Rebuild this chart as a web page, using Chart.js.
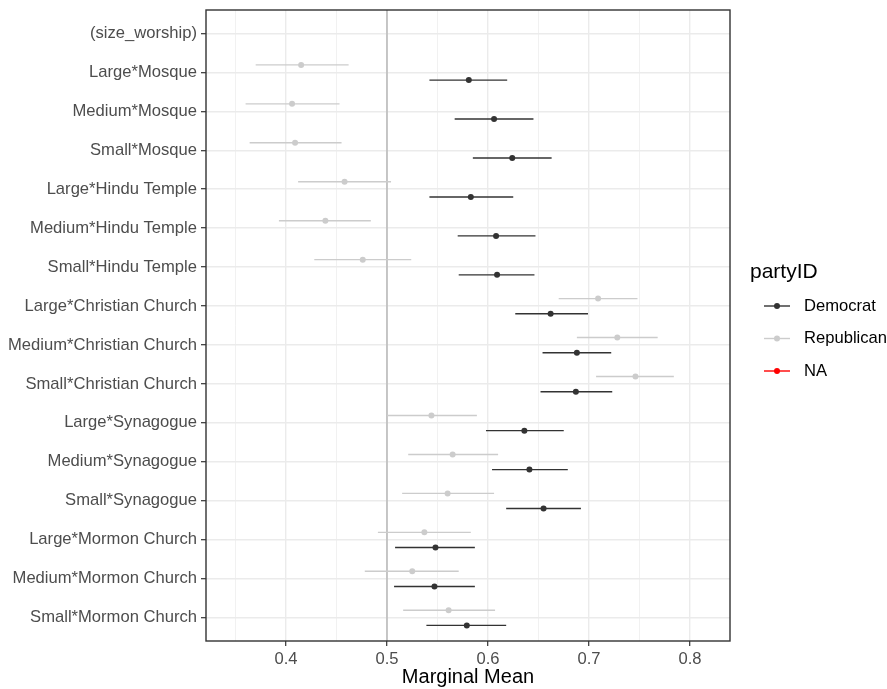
<!DOCTYPE html>
<html>
<head>
<meta charset="utf-8">
<script src="https://cdn.jsdelivr.net/npm/chart.js@4.4.0/dist/chart.umd.min.js"></script>
<style>
  html, body { margin: 0; padding: 0; background: #fff; }
</style>
</head>
<body>
<canvas id="chart" width="887" height="689"></canvas>
<script>
const categories = [
    "(size_worship)", "Large*Mosque", "Medium*Mosque", "Small*Mosque",
    "Large*Hindu Temple", "Medium*Hindu Temple", "Small*Hindu Temple",
    "Large*Christian Church", "Medium*Christian Church", "Small*Christian Church",
    "Large*Synagogue", "Medium*Synagogue", "Small*Synagogue",
    "Large*Mormon Church", "Medium*Mormon Church", "Small*Mormon Church"
];

const demEstimate = [null, 0.581, 0.606, 0.624, 0.583, 0.608, 0.609, 0.662, 0.688, 0.687, 0.636, 0.641, 0.655, 0.548, 0.547, 0.579];
const demLower    = [null, 0.542, 0.567, 0.585, 0.542, 0.570, 0.571, 0.627, 0.654, 0.652, 0.598, 0.604, 0.618, 0.508, 0.507, 0.539];
const demUpper    = [null, 0.619, 0.645, 0.663, 0.625, 0.647, 0.646, 0.699, 0.722, 0.723, 0.675, 0.679, 0.692, 0.587, 0.587, 0.618];

const repEstimate = [null, 0.415, 0.406, 0.409, 0.458, 0.439, 0.476, 0.709, 0.728, 0.746, 0.544, 0.565, 0.560, 0.537, 0.525, 0.561];
const repLower    = [null, 0.370, 0.360, 0.364, 0.412, 0.393, 0.428, 0.670, 0.688, 0.707, 0.500, 0.521, 0.515, 0.491, 0.478, 0.516];
const repUpper    = [null, 0.462, 0.453, 0.455, 0.504, 0.484, 0.524, 0.748, 0.768, 0.784, 0.589, 0.610, 0.606, 0.583, 0.571, 0.607];

const majorTicks = [0.4, 0.5, 0.6, 0.7, 0.8];
const minorTicks = [0.35, 0.45, 0.55, 0.65, 0.75];
const referenceLine = 0.5;

const FONT = '"Liberation Sans", Arial, sans-serif';
const isMajor = v => majorTicks.some(m => Math.abs(m - v) < 1e-6);

// one row of points per category, dodged up/down a little
function buildPoints(est, lo, hi, shift) {
    const pts = [];
    categories.forEach((c, i) => {
        if (est[i] == null) return;
        pts.push({ x: est[i], y: i + shift, lo: lo[i], hi: hi[i] });
    });
    return pts;
}

const errorBars = {
    id: 'errorBars',
    beforeDatasetsDraw(chart) {
        const ctx = chart.ctx;
        const xs = chart.scales.x;
        const area = chart.chartArea;
        ctx.save();
        // reference line at 0.5
        const rx = xs.getPixelForValue(referenceLine);
        ctx.strokeStyle = '#BEBEBE';
        ctx.lineWidth = 1.7;
        ctx.beginPath();
        ctx.moveTo(rx, area.top);
        ctx.lineTo(rx, area.bottom);
        ctx.stroke();

        chart.data.datasets.forEach((ds, di) => {
            const meta = chart.getDatasetMeta(di);
            ctx.strokeStyle = ds.borderColor;
            ctx.lineWidth = 1.4;
            meta.data.forEach((el, j) => {
                const d = ds.data[j];
                ctx.beginPath();
                ctx.moveTo(xs.getPixelForValue(d.lo), el.y);
                ctx.lineTo(xs.getPixelForValue(d.hi), el.y);
                ctx.stroke();
            });
        });
        ctx.restore();
    },
    afterDatasetsDraw(chart) {
        const a = chart.chartArea;
        const ctx = chart.ctx;
        ctx.save();
        ctx.strokeStyle = '#333333';
        ctx.lineWidth = 1.4;
        ctx.strokeRect(a.left, a.top, a.right - a.left, a.bottom - a.top);
        ctx.restore();
    }
};

const sideLegend = {
    id: 'sideLegend',
    afterDraw(chart) {
        const ctx = chart.ctx;
        ctx.save();
        ctx.fillStyle = '#000';
        ctx.font = '21px ' + FONT;
        ctx.textBaseline = 'middle';
        ctx.textAlign = 'left';
        ctx.fillText('partyID', 750, 272);
        ctx.font = '16.6px ' + FONT;
        chart.data.datasets.forEach((ds, i) => {
            const y = 306 + i * 32.5;
            ctx.strokeStyle = ds.borderColor;
            ctx.lineWidth = 1.4;
            ctx.beginPath();
            ctx.moveTo(764, y);
            ctx.lineTo(790, y);
            ctx.stroke();
            ctx.fillStyle = ds.backgroundColor;
            ctx.beginPath();
            ctx.arc(777, y, 3, 0, Math.PI * 2);
            ctx.fill();
            ctx.fillStyle = '#000';
            ctx.fillText(ds.label, 804, y);
        });
        ctx.restore();
    }
};

new Chart(document.getElementById('chart'), {
    type: 'scatter',
    data: {
        datasets: [
            {
                label: 'Democrat',
                data: buildPoints(demEstimate, demLower, demUpper, 0.2),
                borderColor: '#333333',
                backgroundColor: '#333333',
                pointRadius: 3,
                pointBorderWidth: 0
            },
            {
                label: 'Republican',
                data: buildPoints(repEstimate, repLower, repUpper, -0.19),
                borderColor: '#CCCCCC',
                backgroundColor: '#CCCCCC',
                pointRadius: 3,
                pointBorderWidth: 0
            },
            {
                label: 'NA',
                data: [],
                borderColor: '#FF0000',
                backgroundColor: '#FF0000'
            }
        ]
    },
    options: {
        responsive: false,
        animation: false,
        devicePixelRatio: 1,
        layout: { padding: { top: 10, right: 157, bottom: 0, left: 0 } },
        plugins: {
            legend: { display: false },
            tooltip: { enabled: false }
        },
        scales: {
            x: {
                type: 'linear',
                min: 0.3208,
                max: 0.8396,
                afterBuildTicks: axis => {
                    axis.ticks = minorTicks.concat(majorTicks).sort((a, b) => a - b).map(v => ({ value: v }));
                },
                afterFit: axis => {
                    axis.height = 48;
                    axis.paddingLeft = 0;
                    axis.paddingRight = 0;
                },
                ticks: {
                    autoSkip: false,
                    maxRotation: 0,
                    padding: 3,
                    color: '#4D4D4D',
                    font: { family: FONT, size: 16.6 },
                    callback: v => isMajor(v) ? v.toFixed(1) : ''
                },
                grid: {
                    color: '#EBEBEB',
                    lineWidth: ctx => (ctx.tick && isMajor(ctx.tick.value)) ? 1.4 : 0.7,
                    tickLength: 5,
                    tickWidth: 1.2,
                    tickColor: ctx => (ctx.tick && isMajor(ctx.tick.value)) ? '#333333' : 'rgba(0,0,0,0)'
                },
                border: { display: false },
                title: {
                    display: true,
                    text: 'Marginal Mean',
                    color: '#000',
                    font: { family: FONT, size: 20 },
                    padding: { top: 0, bottom: 0 }
                }
            },
            y: {
                type: 'linear',
                reverse: true,
                min: -0.6,
                max: categories.length - 0.4,
                afterBuildTicks: axis => {
                    axis.ticks = categories.map((c, i) => ({ value: i }));
                },
                afterFit: axis => {
                    axis.width = 206;
                    axis.paddingTop = 0;
                    axis.paddingBottom = 0;
                },
                ticks: {
                    autoSkip: false,
                    padding: 4,
                    color: '#4D4D4D',
                    font: { family: FONT, size: 16.6 },
                    callback: v => categories[v]
                },
                grid: {
                    color: '#EBEBEB',
                    lineWidth: 1.4,
                    tickLength: 5,
                    tickWidth: 1.2,
                    tickColor: '#333333'
                },
                border: { display: false }
            }
        }
    },
    plugins: [errorBars, sideLegend]
});
</script>
</body>
</html>
